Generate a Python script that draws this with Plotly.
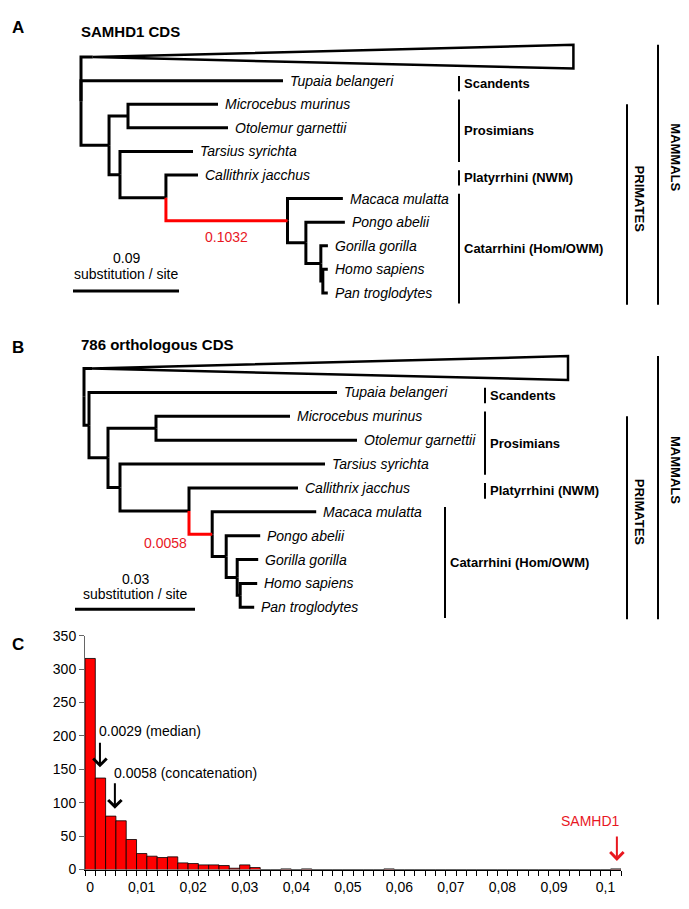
import plotly.graph_objects as go

# ======================= DATA =======================
# Panel A : SAMHD1 CDS tree (branch lengths in substitutions / site)
treeA_nodes = ["root", "Laurasiatheria", "Tupaia belangeri", "Primates", "Prosimii",
               "Microcebus murinus", "Otolemur garnettii", "Haplorhini", "Tarsius syrichta",
               "Anthropoidea", "Callithrix jacchus", "Catarrhini", "Macaca mulatta",
               "Hominoidea", "Pongo abelii", "Homininae", "Gorilla gorilla", "HomoPan",
               "Homo sapiens", "Pan troglodytes"]
treeA_parents = [None, "root", "root", "root", "Primates", "Prosimii", "Prosimii",
                 "Primates", "Haplorhini", "Haplorhini", "Anthropoidea", "Anthropoidea",
                 "Catarrhini", "Catarrhini", "Hominoidea", "Hominoidea", "Homininae",
                 "Homininae", "HomoPan", "HomoPan"]
treeA_lengths = [0.0, 0.0100, 0.1715, 0.0238, 0.0161, 0.0764, 0.0849, 0.0093, 0.0620,
                 0.0390, 0.0272, 0.1032, 0.0470, 0.0156, 0.0331, 0.0127, 0.0060, 0.0017,
                 0.0042, 0.0042]
treeA_collapsed_depth = 0.408
treeA_scale = 0.09

# Panel B : 786 orthologous CDS tree
treeB_nodes = ["root", "Laurasiatheria", "Euarchonta", "Tupaia belangeri", "Primates",
               "Prosimii", "Microcebus murinus", "Otolemur garnettii", "Haplorhini",
               "Tarsius syrichta", "Anthropoidea", "Callithrix jacchus", "Catarrhini",
               "Macaca mulatta", "Hominoidea", "Pongo abelii", "Homininae",
               "Gorilla gorilla", "HomoPan", "Homo sapiens", "Pan troglodytes"]
treeB_parents = [None, "root", "root", "Euarchonta", "Euarchonta", "Primates", "Prosimii",
                 "Prosimii", "Primates", "Haplorhini", "Haplorhini", "Anthropoidea",
                 "Anthropoidea", "Catarrhini", "Catarrhini", "Hominoidea", "Hominoidea",
                 "Homininae", "Homininae", "HomoPan", "HomoPan"]
treeB_lengths = [0.0, 0.0020, 0.00125, 0.0620, 0.00475, 0.0120, 0.0335, 0.05025, 0.0030,
                 0.05125, 0.01725, 0.02725, 0.0058, 0.0260, 0.0035, 0.0085, 0.00275,
                 0.00525, 0.00075, 0.00425, 0.0035]
treeB_collapsed_depth = 0.119
treeB_scale = 0.03

highlight_branch = "Catarrhini"

clade_names = ["Scandents", "Prosimians", "Platyrrhini (NWM)", "Catarrhini (Hom/OWM)"]
clade_first = ["Tupaia belangeri", "Microcebus murinus", "Callithrix jacchus", "Macaca mulatta"]
clade_last = ["Tupaia belangeri", "Tarsius syrichta", "Callithrix jacchus", "Pan troglodytes"]

# Panel C : histogram of branch lengths (786 orthologous CDS + SAMHD1)
bin_width = 0.002
bin_counts = [316, 137, 80, 73, 45, 24, 20, 18, 19, 10,
              9, 7, 7, 6, 2, 7, 3, 0, 0, 1,
              0, 1, 0, 0, 0, 0, 0, 0, 0, 1,
              0, 0, 0, 0, 0, 0, 0, 0, 0, 0,
              0, 0, 0, 0, 0, 0, 0, 0, 0, 0,
              0, 1]
tick_labels = ["0", "0,01", "0,02", "0,03", "0,04", "0,05", "0,06", "0,07", "0,08", "0,09", "0,1"]
median_value = 0.0029
concat_value = 0.0058
samhd1_value = 0.1032

# ======================= STYLE / LAYOUT =======================
FONT = "Liberation Sans, Arial, Helvetica, sans-serif"
W, H = 689, 909
RED = "#ff0000"
RED_TXT = "#e8171f"

fig = go.Figure()
ann = []


def py2paper(py):
    return 1 - py / H


def tree_layout(nodes, parents, lengths):
    blen = dict(zip(nodes, lengths))
    kids = {n: [] for n in nodes}
    for n, p in zip(nodes, parents):
        if p is not None:
            kids[p].append(n)
    X, Y, order = {}, {}, []

    def rec(n, d):
        X[n] = d
        if not kids[n]:
            Y[n] = len(order)
            order.append(n)
        else:
            for c in kids[n]:
                rec(c, d + blen[c])
            Y[n] = (Y[kids[n][0]] + Y[kids[n][-1]]) / 2

    rec(nodes[0], 0.0)
    return X, Y, order


trees = [
    dict(nodes=treeA_nodes, parents=treeA_parents, lengths=treeA_lengths,
         depth=treeA_collapsed_depth, scale=treeA_scale,
         root_px=81, ppu=1178.0, y0=50.0, dy=24.0, top=0, bottom=322,
         xa="x", ya="y", xn="xaxis", yn="yaxis",
         letter="A", letter_py=20, title="SAMHD1 CDS", title_py=24,
         bar_px=[459, 459, 459, 459], scale_px=73, scale_py=288, scale_t1=254, scale_t2=271,
         red_lab_mode="below"),
    dict(nodes=treeB_nodes, parents=treeB_parents, lengths=treeB_lengths,
         depth=treeB_collapsed_depth, scale=treeB_scale,
         root_px=84, ppu=4000.0, y0=367.0, dy=24.3, top=322, bottom=630,
         xa="x2", ya="y2", xn="xaxis2", yn="yaxis2",
         letter="B", letter_py=346, title="786 orthologous CDS", title_py=343,
         bar_px=[485, 485, 485, 445], scale_px=75, scale_py=612, scale_t1=581, scale_t2=597,
         red_lab_mode="left"),
]

layout_axes = {}

for T in trees:
    X, Y, order = tree_layout(T["nodes"], T["parents"], T["lengths"])
    dxp = lambda px, T=T: (px - T["root_px"]) / T["ppu"]
    dyp = lambda py, T=T: (py - T["y0"]) / T["dy"]

    bx, by, rx, ry = [], [], [], []
    for n, p in zip(T["nodes"], T["parents"]):
        if p is None:
            continue
        xs = [X[p], X[p], X[n], None]
        ys = [Y[p], Y[n], Y[n], None]
        if n == highlight_branch:
            rx += xs; ry += ys
        else:
            bx += xs; by += ys
    fig.add_trace(go.Scatter(x=bx, y=by, mode="lines", xaxis=T["xa"], yaxis=T["ya"],
                             line=dict(color="black", width=3), hoverinfo="skip"))
    fig.add_trace(go.Scatter(x=rx, y=ry, mode="lines", xaxis=T["xa"], yaxis=T["ya"],
                             line=dict(color=RED, width=3), hoverinfo="skip"))

    # collapsed clade triangle
    ax0, ay0 = X["Laurasiatheria"], Y["Laurasiatheria"]
    fig.add_trace(go.Scatter(
        x=[ax0, ax0 + T["depth"], ax0 + T["depth"], ax0],
        y=[ay0, ay0 - 0.52, ay0 + 0.48, ay0],
        mode="lines", fill="toself", fillcolor="white",
        xaxis=T["xa"], yaxis=T["ya"], line=dict(color="black", width=2.5), hoverinfo="skip"))

    # species labels
    for n in order:
        if n == "Laurasiatheria":
            continue
        ann.append(dict(x=X[n], y=Y[n], xref=T["xa"], yref=T["ya"], text=f"<i>{n}</i>",
                        xanchor="left", yanchor="middle", xshift=5, showarrow=False,
                        font=dict(size=14, family=FONT, color="black")))

    # highlighted branch length label
    hb = T["lengths"][T["nodes"].index(highlight_branch)]
    par = T["parents"][T["nodes"].index(highlight_branch)]
    if T["red_lab_mode"] == "below":
        ann.append(dict(x=(X[par] + X[highlight_branch]) / 2, y=Y[highlight_branch],
                        xref=T["xa"], yref=T["ya"], text=f"{hb:.4f}", showarrow=False,
                        xanchor="center", yanchor="middle", yshift=-16,
                        font=dict(size=14, family=FONT, color=RED_TXT)))
    else:
        ann.append(dict(x=X[par], y=Y[highlight_branch], xref=T["xa"], yref=T["ya"],
                        text=f"{hb:.4f}", showarrow=False, xanchor="right", yanchor="middle",
                        yshift=-9, xshift=0,
                        font=dict(size=14, family=FONT, color=RED_TXT)))

    # clade bars and labels
    cx, cy = [], []
    for name, f, l, bpx in zip(clade_names, clade_first, clade_last, T["bar_px"]):
        xb = dxp(bpx)
        cx += [xb, xb, None]
        cy += [Y[f] - 0.2, Y[l] + 0.45, None]
        ann.append(dict(x=xb, y=(Y[f] + Y[l]) / 2 + 0.12, xref=T["xa"], yref=T["ya"],
                        text=f"<b>{name}</b>", showarrow=False, xanchor="left",
                        yanchor="middle", xshift=3,
                        font=dict(size=13, family=FONT, color="black")))
    # PRIMATES / MAMMALS
    xp, xm = dxp(627), dxp(658)
    cx += [xp, xp, None, xm, xm, None]
    cy += [Y["Microcebus murinus"], Y["Pan troglodytes"] + 0.5, None,
           Y["Laurasiatheria"] - 0.52, Y["Pan troglodytes"] + 0.5, None]
    fig.add_trace(go.Scatter(x=cx, y=cy, mode="lines", xaxis=T["xa"], yaxis=T["ya"],
                             line=dict(color="black", width=2), hoverinfo="skip"))
    ann.append(dict(x=dxp(639), y=(Y["Microcebus murinus"] + Y["Pan troglodytes"]) / 2,
                    xref=T["xa"], yref=T["ya"], text="<b>PRIMATES</b>", textangle=90,
                    showarrow=False, xanchor="center", yanchor="middle",
                    font=dict(size=13, family=FONT, color="black")))
    ann.append(dict(x=dxp(676), y=4.25, xref=T["xa"], yref=T["ya"], text="<b>MAMMALS</b>",
                    textangle=90, showarrow=False, xanchor="center", yanchor="middle",
                    font=dict(size=13, family=FONT, color="black")))

    # scale bar
    s0 = dxp(T["scale_px"])
    fig.add_trace(go.Scatter(x=[s0, s0 + T["scale"]], y=[dyp(T["scale_py"])] * 2, mode="lines",
                             xaxis=T["xa"], yaxis=T["ya"],
                             line=dict(color="black", width=3), hoverinfo="skip"))
    smid = s0 + T["scale"] / 2
    ann.append(dict(x=smid, y=dyp(T["scale_t1"]), xref=T["xa"], yref=T["ya"],
                    text=f"{T['scale']:.2f}", showarrow=False, xanchor="center",
                    yanchor="middle", font=dict(size=14, family=FONT, color="black")))
    ann.append(dict(x=smid, y=dyp(T["scale_t2"]), xref=T["xa"], yref=T["ya"],
                    text="substitution / site", showarrow=False, xanchor="center",
                    yanchor="middle", font=dict(size=14, family=FONT, color="black")))

    # letter & title
    ann.append(dict(x=18 / W, y=py2paper(T["letter_py"]), xref="paper", yref="paper",
                    text=f"<b>{T['letter']}</b>", showarrow=False, xanchor="center",
                    yanchor="middle", font=dict(size=17, family=FONT, color="black")))
    ann.append(dict(x=79 / W, y=py2paper(T["title_py"]), xref="paper", yref="paper",
                    text=f"<b>{T['title']}</b>", showarrow=False, xanchor="left",
                    yanchor="middle", font=dict(size=15, family=FONT, color="black")))

    layout_axes[T["xn"]] = dict(domain=[0, 1], anchor=T["ya"],
                                range=[(0 - T["root_px"]) / T["ppu"], (W - T["root_px"]) / T["ppu"]],
                                visible=False, fixedrange=True)
    layout_axes[T["yn"]] = dict(domain=[py2paper(T["bottom"]), py2paper(T["top"])], anchor=T["xa"],
                                range=[dyp(T["bottom"]), dyp(T["top"])],
                                visible=False, fixedrange=True)

# ---------- Panel C : histogram ----------
nb = len(bin_counts)
centers = [bin_width * (i + 0.5) for i in range(nb)]
fig.add_trace(go.Bar(x=centers, y=bin_counts, width=bin_width, xaxis="x3", yaxis="y3",
                     marker=dict(color=RED, line=dict(color="black", width=0.8)),
                     hoverinfo="skip"))

label_vals = [float(t.replace(",", ".")) + bin_width / 2 for t in tick_labels]

layout_axes["xaxis3"] = dict(domain=[85 / W, 621 / W], anchor="y3", range=[0, nb * bin_width],
                             showline=True, linecolor="black", linewidth=1, showgrid=False,
                             zeroline=False, tickmode="array", tickvals=label_vals,
                             ticktext=tick_labels, ticks="outside", ticklen=5,
                             tickcolor="rgba(0,0,0,0)",
                             minor=dict(ticks="outside", ticklen=5, tickcolor="black",
                                        tickwidth=1, tick0=0, dtick=bin_width, showgrid=False),
                             tickfont=dict(size=14, family=FONT, color="black"), fixedrange=True)
layout_axes["yaxis3"] = dict(domain=[py2paper(877), py2paper(639)], anchor="x3", range=[0, 350],
                             tick0=0, dtick=50, showline=True, linecolor="#666", linewidth=1,
                             showgrid=False, zeroline=False, ticks="outside", ticklen=5,
                             tickcolor="#666",
                             tickfont=dict(size=14, family=FONT, color="black"), fixedrange=True)

ann.append(dict(x=18 / W, y=py2paper(648), xref="paper", yref="paper", text="<b>C</b>",
                showarrow=False, xanchor="center", yanchor="middle",
                font=dict(size=17, family=FONT, color="black")))

# arrows and labels in panel C
for val, tip, tail_px, txt, ty, color, anchor in [
        (median_value, 153, -26, f"{median_value} (median)", 207, "black", "left"),
        (concat_value, 91, -27, f"{concat_value} (concatenation)", 144, "black", "left"),
        (samhd1_value, 13, -26, "SAMHD1", 73, RED_TXT, "right")]:
    ann.append(dict(x=val, y=tip, xref="x3", yref="y3", ax=0, ay=tail_px, text="",
                    showarrow=True, arrowhead=4, arrowsize=1.3, arrowwidth=2,
                    arrowcolor=color))
    ann.append(dict(x=val, y=ty, xref="x3", yref="y3", text=txt, showarrow=False,
                    xanchor=anchor, yanchor="middle", xshift=(-3 if anchor == "left" else 5),
                    font=dict(size=14, family=FONT, color=color)))

fig.update_layout(width=W, height=H, margin=dict(l=0, r=0, t=0, b=0),
                  paper_bgcolor="white", plot_bgcolor="rgba(0,0,0,0)",
                  showlegend=False, bargap=0, annotations=ann, hovermode=False,
                  font=dict(family=FONT, color="black"), **layout_axes)

fig.write_html("out.html", config={"displayModeBar": False, "staticPlot": True},
               post_script="document.body.style.margin='0px';document.body.style.padding='0px';")
